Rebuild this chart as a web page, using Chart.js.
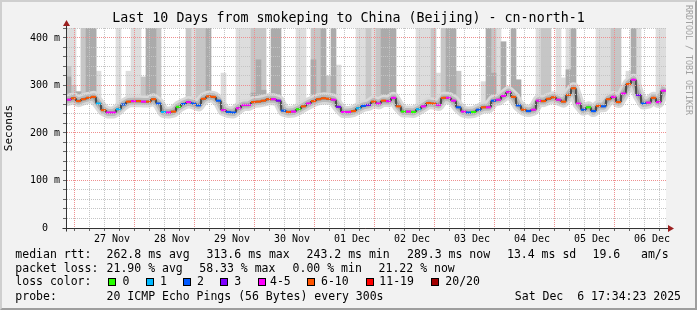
<!DOCTYPE html>
<html>
<head>
<meta charset="utf-8">
<script src="https://cdn.jsdelivr.net/npm/chart.js@4/dist/chart.umd.min.js"></script>
<style>
html,body{margin:0;padding:0;background:#f2f2f2;}
#wrap{position:relative;width:697px;height:310px;overflow:hidden;}
#c{position:absolute;left:0;top:0;}
.t{position:absolute;font-family:"DejaVu Sans Mono",monospace;font-size:11.5px;line-height:14px;white-space:pre;color:#000;}
.box{position:absolute;width:6px;height:6px;border:1px solid #000;}
#tag{position:absolute;left:684px;top:5px;writing-mode:vertical-rl;font-family:"DejaVu Sans Mono",monospace;font-size:8.3px;line-height:9px;color:#a0a0a0;white-space:pre;}
#frame{position:absolute;left:0;top:0;width:697px;height:310px;box-sizing:border-box;border-top:2px solid #cfcfcf;border-left:2px solid #cfcfcf;border-right:2px solid #9e9e9e;border-bottom:2px solid #9e9e9e;pointer-events:none;}
</style>
</head>
<body>
<div id="wrap">
<canvas id="c" width="697" height="310"></canvas>
<div id="stats"></div>
<div id="tag">RRDTOOL / TOBI OETIKER</div>
<div id="frame"></div>
</div>
<script>
const _ = null;
const TITLE = 'Last 10 Days from smokeping to China (Beijing) - cn-north-1';
const Y_TITLE = 'Seconds';
const xTickLabels = ['27 Nov','28 Nov','29 Nov','30 Nov','01 Dec','02 Dec','03 Dec','04 Dec','05 Dec','06 Dec'];
const yTickLabels = ['0  ','100 m','200 m','300 m','400 m'];

// median RTT (ms), one value per 2-hour slot, 26 Nov 17:34 -> 06 Dec 17:34
const medianRtt = [
 270,273,267,271,274,276,262,248,243,243, 250,260,266,267,267,266,266,271,262,244,
 243,245,255,261,265,262,258,272,277,276, 268,248,244,243,252,259,259,265,266,268,
 271,271,268,247,244,245,250,256,262,267, 271,273,272,270,255,244,244,246,252,257,
 259,266,262,268,267,274,256,245,245,244, 250,256,263,262,259,274,274,268,254,245,
 243,244,249,254,254,268,270,278,286,276, 258,249,246,249,268,267,272,275,270,266,
 280,294,262,249,254,246,257,256,271,276, 265,283,303,312,280,262,264,274,265,289
];
// lost pings (of 20) per slot
const lostPings = [
 5,7,6,8,7,6,1,7,4,5, 1,2,6,5,7,4,8,6,2,1,
 5,7,0,2,4,2,2,7,9,6, 2,4,2,2,5,4,5,6,7,8,
 7,4,3,2,6,5,0,6,4,7, 8,9,7,5,3,4,4,6,1,2,
 3,7,5,6,4,5,8,0,4,0, 1,5,6,7,4,9,5,4,2,5,
 2,0,2,6,4,2,5,4,5,7, 2,6,2,4,5,7,8,6,4,7,
 8,7,5,2,0,2,6,2,7,4, 6,5,8,5,3,2,4,7,5,4
];
// upper edge (ms) of the smoke spread per slot, three density levels
const smokeLightTop = [
 421,421,_,421,_,_,330,_,_,_, 421,_,330,421,421,_,_,_,_,_,
 _,_,_,_,_,421,_,_,_,_, _,326,_,_,421,421,421,_,_,_,
 _,_,_,_,_,_,421,421,_,_, _,_,_,_,343,_,_,_,421,421,
 _,421,_,_,_,_,_,_,_,_, 421,421,421,_,326,_,_,_,_,_,
 _,_,_,308,_,_,421,_,_,_, _,_,_,_,421,_,_,_,421,316,
 421,_,_,_,_,_,421,421,421,_, _,_,330,_,421,_,_,_,421,421
];
const smokeMidTop = [
 340,300,_,421,_,421,_,_,_,_, _,_,_,_,_,318,_,_,421,_,
 _,_,_,_,421,_,421,421,_,_, _,_,_,_,_,_,_,421,421,421,
 _,_,_,_,_,_,_,_,_,421, 421,_,320,_,_,_,_,_,_,_,
 421,_,421,421,_,_,_,_,_,_, _,_,_,421,_,421,_,_,330,_,
 _,_,_,_,_,421,_,_,_,_, _,_,_,_,_,421,421,_,_,_,
 _,_,_,_,_,_,_,_,_,421, 421,_,_,_,_,_,_,_,_,_
];
const smokeDarkTop = [
 318,285,287,_,421,421,_,_,_,_, _,_,_,_,_,_,421,421,_,_,
 _,_,_,_,_,_,_,_,421,_, _,_,_,_,_,_,_,284,354,290,
 _,421,421,_,_,_,_,_,_,354, _,421,_,421,_,_,_,_,_,_,
 _,_,_,421,421,421,_,_,_,_, _,_,_,_,_,_,421,421,_,_,
 _,_,_,_,421,326,_,392,_,421, 312,_,_,_,_,_,_,_,_,_,
 333,421,_,_,_,_,_,_,_,_, _,_,_,421,_,_,_,_,_,_
];

const lossLegend = ['0','1','2','3','4-5','6-10','11-19','20/20'];
const lossColors = ['#26ff00','#00b8ff','#0059ff','#7e00ff','#ff00ff','#ff5500','#ff0000','#a10000'];
const rttStats = ['262.8 ms avg','313.6 ms max','243.2 ms min','289.3 ms now','13.4 ms sd','19.6','am/s'];
const lossStats = ['21.90 % avg','58.33 % max','0.00 % min','21.22 % now'];
const probeText = '20 ICMP Echo Pings (56 Bytes) every 300s';
const stampText = 'Sat Dec  6 17:34:23 2025';

const HOUR = 3600e3;
const SLOT = 2 * HOUR;
const START = Date.UTC(2025, 10, 26, 17, 34, 23);
const END = START + medianRtt.length * SLOT;
const FIRST_DAY = Date.UTC(2025, 10, 27);
const MONO = '"DejaVu Sans Mono", monospace';

const slotStart = i => START + i * SLOT;
const slotMid = i => START + i * SLOT + SLOT / 2;
const lossBucket = n => n <= 3 ? n : n <= 5 ? 4 : n <= 10 ? 5 : n <= 19 ? 6 : 7;

const midPts = medianRtt.map((v, i) => ({x: slotMid(i), y: v}));
const stepPts = medianRtt.map((v, i) => ({x: slotStart(i), y: v}));
stepPts.push({x: END, y: medianRtt[medianRtt.length - 1]});
const cols = tops => tops.map((t, i) => t == null ? null : {x: slotMid(i), y: [medianRtt[i], t]}).filter(Boolean);

const barCommon = {type: 'bar', borderWidth: 0, grouped: false, barPercentage: 1, categoryPercentage: 1};
const bandCommon = {type: 'line', pointRadius: 0, tension: 0, borderJoinStyle: 'round', borderCapStyle: 'square', clip: 0};

const datasets = [
  {type: 'line', data: midPts, showLine: false, pointStyle: 'line', pointRadius: 2.5, pointBorderWidth: 2,
   pointBorderColor: lostPings.map(n => lossColors[lossBucket(n)]), pointBackgroundColor: 'transparent', order: 0},
  {type: 'line', data: stepPts, stepped: 'before', borderColor: '#000', borderWidth: 1, pointRadius: 0, order: 1},
  Object.assign({data: midPts, borderColor: '#9a9a9a', borderWidth: 3, order: 2}, bandCommon),
  Object.assign({data: midPts, borderColor: '#bababa', borderWidth: 7, order: 3}, bandCommon),
  Object.assign({data: midPts, borderColor: '#d9d9d9', borderWidth: 12, order: 4}, bandCommon),
  Object.assign({data: cols(smokeDarkTop), backgroundColor: '#ababab', order: 5}, barCommon),
  Object.assign({data: cols(smokeMidTop), backgroundColor: '#c6c6c6', order: 6}, barCommon),
  Object.assign({data: cols(smokeLightTop), backgroundColor: '#dddddd', order: 7}, barCommon)
];

const RED = '#ee8f8f', GRAY = '#c4c4c4';
const isMidnight = v => new Date(v).getUTCHours() === 0;

const deco = {
  id: 'deco',
  beforeDraw(chart) {
    const {ctx, chartArea: a} = chart;
    ctx.save();
    ctx.fillStyle = '#f2f2f2';
    ctx.fillRect(0, 0, chart.width, chart.height);
    ctx.fillStyle = '#ffffff';
    ctx.fillRect(a.left, a.top, a.right - a.left, a.bottom - a.top);
    ctx.restore();
  },
  afterDraw(chart) {
    const {ctx, chartArea: a} = chart;
    const x0 = Math.round(a.left) + 0.5, y0 = Math.round(a.bottom) + 0.5;
    ctx.save();
    ctx.strokeStyle = '#333';
    ctx.lineWidth = 1;
    ctx.beginPath();
    ctx.moveTo(x0, a.top - 3); ctx.lineTo(x0, y0 + 3);
    ctx.moveTo(x0 - 4, y0); ctx.lineTo(a.right + 3, y0);
    ctx.stroke();
    ctx.fillStyle = '#9b2020';
    ctx.beginPath();
    ctx.moveTo(x0, a.top - 8); ctx.lineTo(x0 - 3.5, a.top - 2); ctx.lineTo(x0 + 3.5, a.top - 2); ctx.closePath(); ctx.fill();
    ctx.beginPath();
    ctx.moveTo(a.right + 8, y0); ctx.lineTo(a.right + 2, y0 - 3.5); ctx.lineTo(a.right + 2, y0 + 3.5); ctx.closePath(); ctx.fill();
    ctx.restore();
  }
};

new Chart(document.getElementById('c'), {
  type: 'line',
  data: {datasets},
  plugins: [deco],
  options: {
    responsive: false,
    devicePixelRatio: 1,
    animation: false,
    events: [],
    layout: {padding: 0},
    plugins: {
      legend: {display: false},
      tooltip: {enabled: false},
      title: {display: true, text: TITLE, color: '#000',
              font: {family: MONO, size: 13.3, weight: 'normal', lineHeight: 1.2},
              padding: {top: 11, bottom: 1}}
    },
    scales: {
      x: {
        type: 'linear', min: START, max: END, offset: false,
        afterBuildTicks: s => {
          const t = [];
          for (let v = FIRST_DAY - 18 * HOUR; v <= END; v += 6 * HOUR) if (v >= START) t.push({value: v});
          s.ticks = t;
        },
        afterFit: s => { s.height = 82; },
        grid: {z: 1, lineWidth: 1, drawTicks: true, tickLength: 3, tickColor: '#666',
               color: c => (c.tick && isMidnight(c.tick.value)) ? RED : GRAY},
        border: {display: true, color: '#333', width: 1, dash: [1, 1], z: 1},
        ticks: {autoSkip: false, maxRotation: 0, minRotation: 0, padding: 2, color: '#000',
                font: {family: MONO, size: 10},
                callback: v => {
                  if (new Date(v).getUTCHours() !== 12) return '';
                  const d = Math.floor((v - FIRST_DAY) / (24 * HOUR));
                  return xTickLabels[d] || '';
                }}
      },
      y: {
        type: 'linear', min: 0, max: 421,
        afterBuildTicks: s => {
          const t = [];
          for (let v = 0; v <= 420; v += 20) t.push({value: v});
          s.ticks = t;
        },
        afterFit: s => { s.width = 66; },
        grid: {z: 1, lineWidth: 1, drawTicks: true, tickLength: 3, tickColor: '#666',
               color: c => (c.tick && c.tick.value % 100 === 0) ? RED : GRAY},
        border: {display: true, color: '#333', width: 1, dash: [1, 1], z: 1},
        ticks: {autoSkip: false, padding: 3, color: '#000', font: {family: MONO, size: 10},
                callback: v => v % 100 === 0 ? yTickLabels[v / 100] : ''},
        title: {display: true, text: Y_TITLE, color: '#000', font: {family: MONO, size: 11},
                padding: {top: 3, bottom: 0}}
      },
      yr: {
        type: 'linear', position: 'right', display: true,
        grid: {display: false, drawTicks: false}, border: {display: false},
        ticks: {display: false},
        afterFit: s => { s.width = 31; }
      }
    }
  }
});

// statistics block below the chart
const stats = document.getElementById('stats');
function txt(x, y, s, right) {
  const e = document.createElement('div');
  e.className = 't';
  e.textContent = s;
  e.style.top = y + 'px';
  if (right) { e.style.right = (697 - x) + 'px'; } else { e.style.left = x + 'px'; }
  stats.appendChild(e);
}
const rowY = [246.7, 261, 274.4, 289];
const rttX = [106.6, 206.6, 306.6, 407, 507, 592.6, 641];
const lossX = [106.6, 199.3, 292.6, 378.6];
const boxX = [108.3, 145.7, 182.7, 220, 257.7, 307.3, 366, 430.7];
const boxLabelX = [122.6, 160, 197, 234.3, 270, 321, 379.3, 445.3];
txt(15.3, rowY[0], 'median rtt:');
rttStats.forEach((s, i) => txt(rttX[i], rowY[0], s));
txt(15.3, rowY[1], 'packet loss:');
lossStats.forEach((s, i) => txt(lossX[i], rowY[1], s));
txt(15.3, rowY[2], 'loss color:');
lossLegend.forEach((s, i) => {
  const b = document.createElement('div');
  b.className = 'box';
  b.style.left = boxX[i] + 'px';
  b.style.top = '278px';
  b.style.background = lossColors[i];
  stats.appendChild(b);
  txt(boxLabelX[i], rowY[2], s);
});
txt(15.3, rowY[3], 'probe:');
txt(106.6, rowY[3], probeText);
txt(681, rowY[3], stampText, true);
</script>
</body>
</html>
